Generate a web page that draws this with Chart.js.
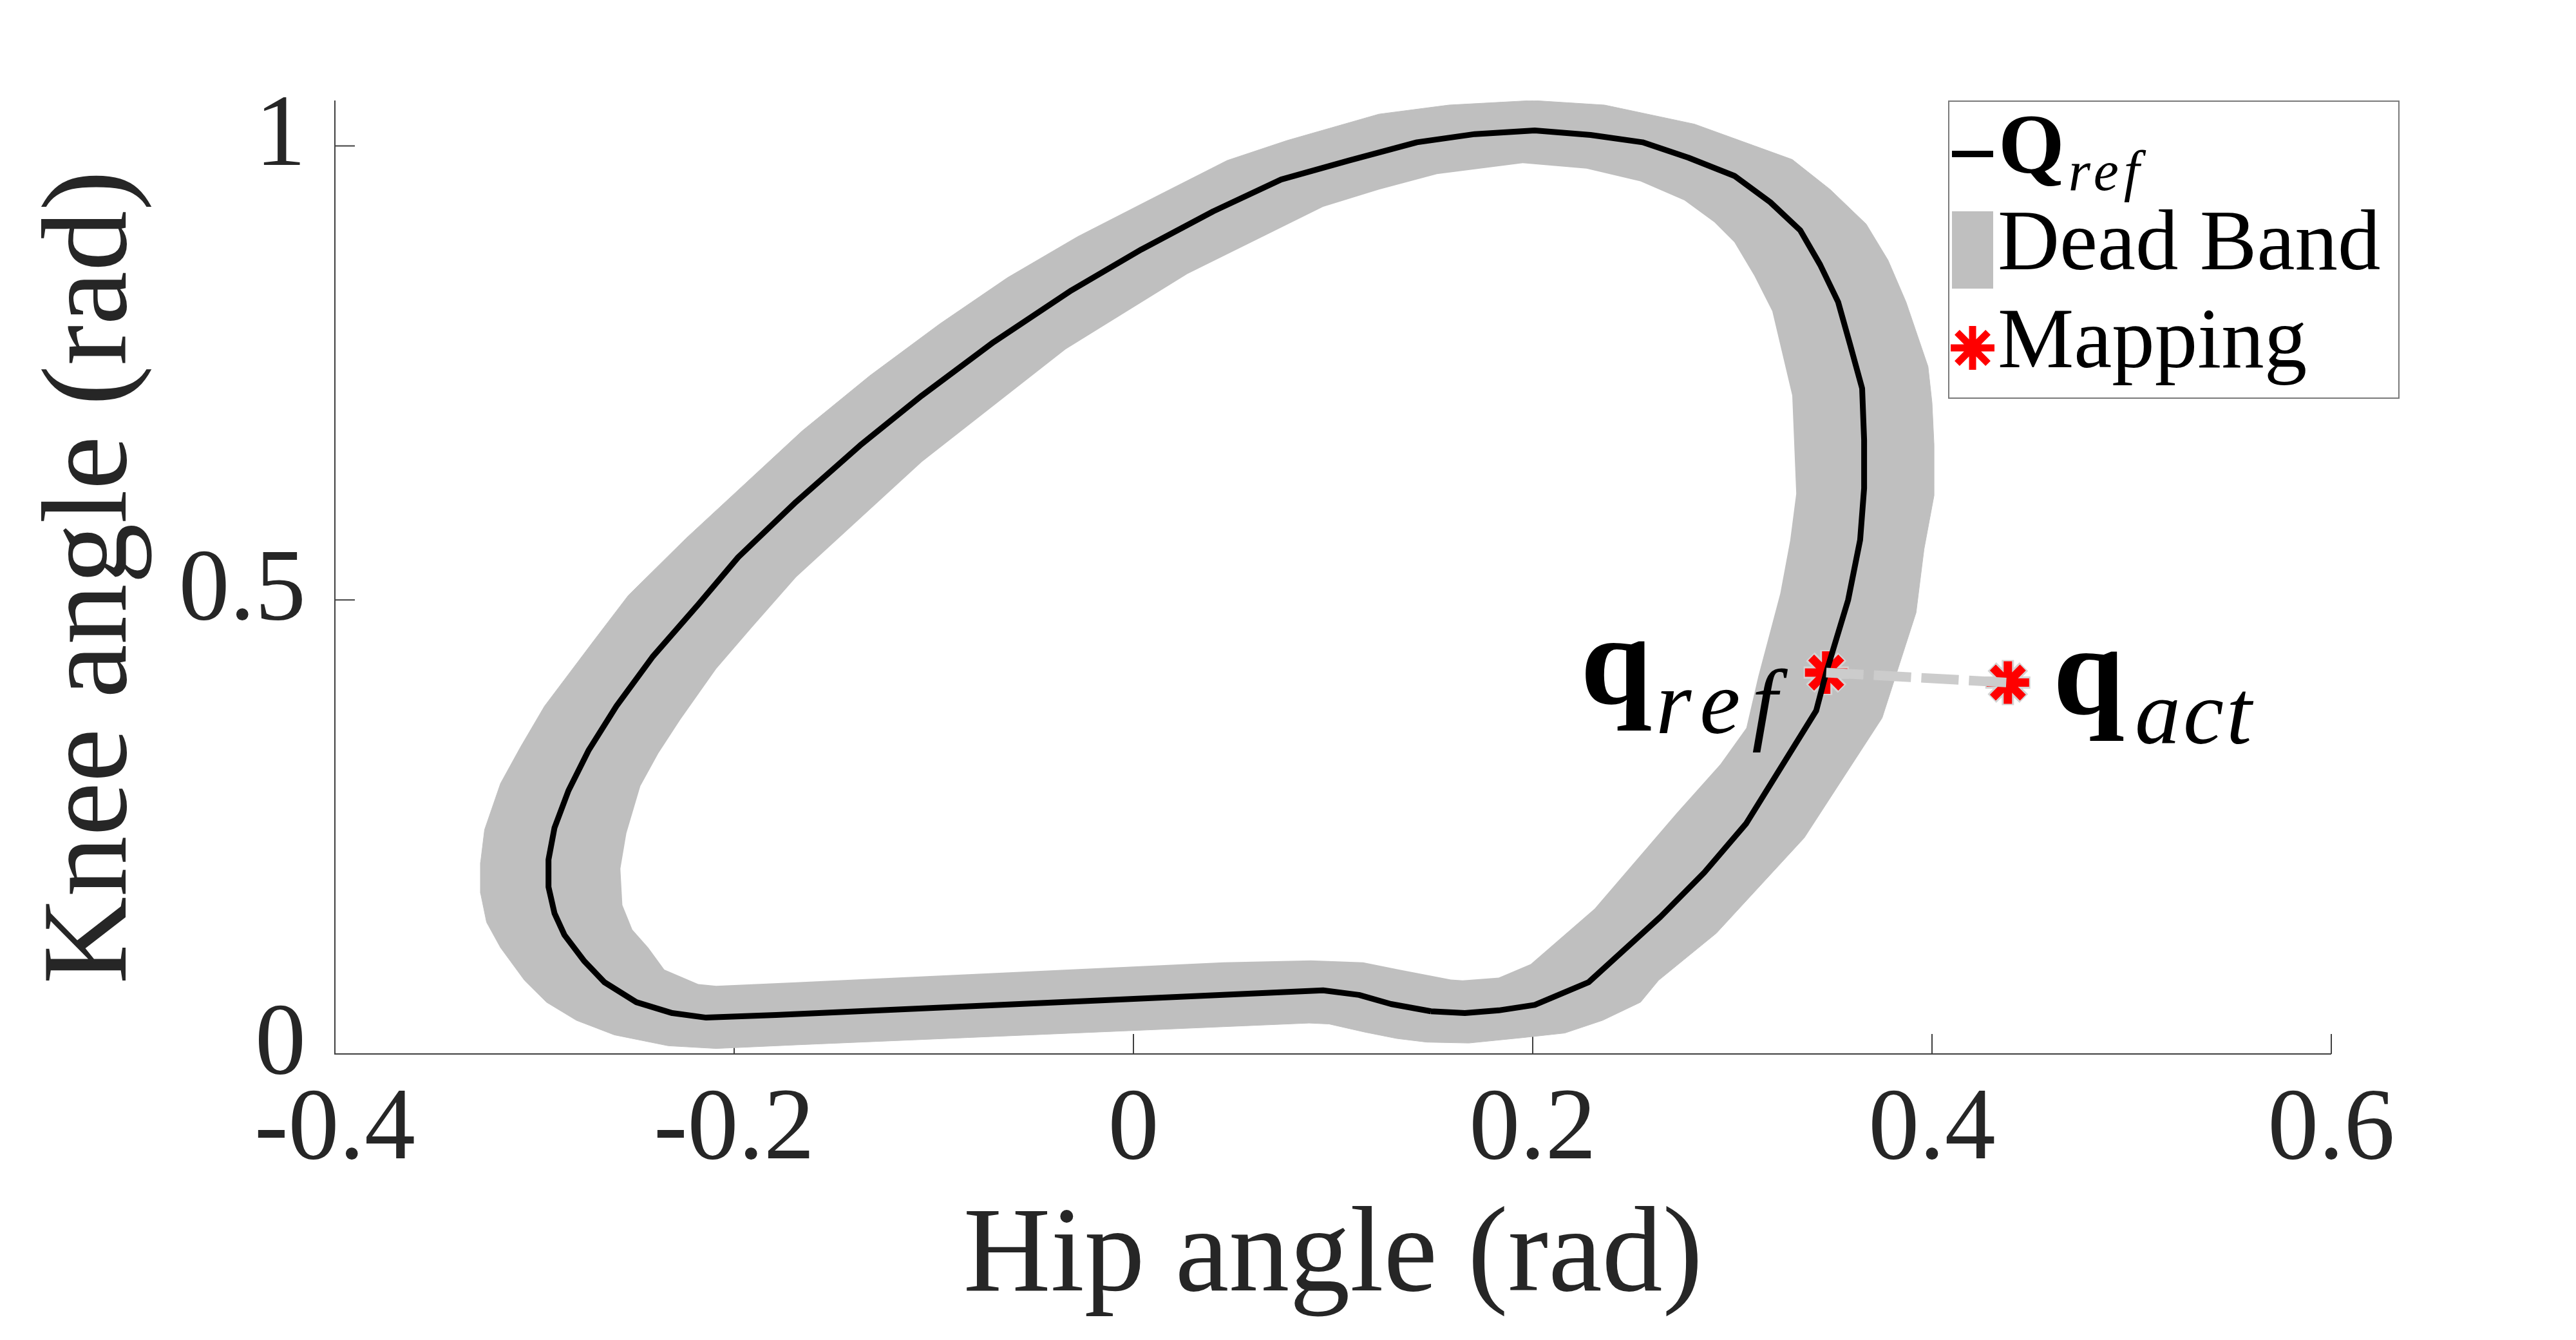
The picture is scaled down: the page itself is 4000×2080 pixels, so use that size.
<!DOCTYPE html>
<html>
<head>
<meta charset="utf-8">
<title>Knee angle vs hip angle</title>
<script src="https://cdn.jsdelivr.net/npm/chart.js@4.4.1/dist/chart.umd.min.js"></script>
<style>
  html, body { margin: 0; padding: 0; background: #ffffff; overflow: hidden; }
  canvas { display: block; }
</style>
</head>
<body>
<canvas id="myChart" width="4000" height="2080"></canvas>
<script>
// reference trajectory Q_ref (hip angle, knee angle), rad
var refHip = [0.149, 0.166, 0.183, 0.201, 0.228, 0.264, 0.286, 0.307, 0.342, 0.347,
  0.358, 0.364, 0.366, 0.366, 0.365, 0.359, 0.353, 0.344, 0.334, 0.319,
  0.301, 0.278, 0.255, 0.229, 0.201, 0.171, 0.142, 0.108, 0.074, 0.040,
  0.004, -0.031, -0.070, -0.106, -0.137, -0.169, -0.198, -0.218, -0.241, -0.259,
  -0.273, -0.283, -0.290, -0.293, -0.293, -0.290, -0.285, -0.275, -0.265, -0.249,
  -0.231, -0.214, -0.179, 0.095, 0.113, 0.129];
var refKnee = [0.047, 0.045, 0.048, 0.054, 0.079, 0.151, 0.200, 0.254, 0.378, 0.420,
  0.500, 0.566, 0.623, 0.676, 0.733, 0.781, 0.828, 0.869, 0.907, 0.938,
  0.967, 0.987, 1.004, 1.012, 1.017, 1.013, 1.004, 0.984, 0.963, 0.928,
  0.886, 0.841, 0.784, 0.725, 0.670, 0.608, 0.547, 0.495, 0.437, 0.383,
  0.334, 0.290, 0.249, 0.214, 0.184, 0.155, 0.131, 0.102, 0.079, 0.057,
  0.045, 0.040, 0.043, 0.070, 0.065, 0.055];

// dead band, outer edge
var bandOuterHip = [0.147, 0.168, 0.195, 0.216, 0.235, 0.254, 0.263, 0.292, 0.336, 0.375,
  0.392, 0.396, 0.401, 0.401, 0.400, 0.398, 0.387, 0.378, 0.367, 0.349,
  0.330, 0.281, 0.236, 0.200, 0.158, 0.123, 0.077, 0.047, 0.012, -0.028,
  -0.063, -0.097, -0.132, -0.166, -0.195, -0.224, -0.253, -0.270, -0.295, -0.307,
  -0.317, -0.325, -0.327, -0.327, -0.324, -0.317, -0.305, -0.294, -0.279, -0.260,
  -0.233, -0.209, -0.169, 0.045, 0.088, 0.098, 0.116, 0.132];
var bandOuterKnee = [0.013, 0.012, 0.018, 0.023, 0.037, 0.057, 0.081, 0.133, 0.238, 0.370,
  0.486, 0.556, 0.615, 0.671, 0.717, 0.757, 0.828, 0.874, 0.914, 0.952,
  0.985, 1.024, 1.045, 1.050, 1.045, 1.035, 1.006, 0.984, 0.945, 0.900,
  0.855, 0.804, 0.747, 0.686, 0.627, 0.568, 0.505, 0.456, 0.383, 0.338,
  0.298, 0.247, 0.211, 0.177, 0.145, 0.117, 0.081, 0.057, 0.037, 0.021,
  0.009, 0.006, 0.010, 0.030, 0.034, 0.033, 0.024, 0.017];

// dead band, inner edge
var bandInnerHip = [0.159, 0.165, 0.183, 0.199, 0.231, 0.272, 0.294, 0.307, 0.313, 0.324,
  0.329, 0.332, 0.330, 0.320, 0.311, 0.301, 0.291, 0.276, 0.254, 0.227,
  0.195, 0.152, 0.123, 0.095, 0.027, -0.034, -0.106, -0.169, -0.191, -0.209,
  -0.227, -0.238, -0.247, -0.254, -0.257, -0.256, -0.251, -0.243, -0.235, -0.218,
  -0.209, -0.169, 0.045, 0.089, 0.115, 0.133];
var bandInnerKnee = [0.082, 0.081, 0.084, 0.099, 0.160, 0.265, 0.319, 0.359, 0.416, 0.507,
  0.566, 0.617, 0.725, 0.818, 0.857, 0.894, 0.916, 0.940, 0.961, 0.975,
  0.981, 0.969, 0.952, 0.933, 0.859, 0.776, 0.652, 0.525, 0.470, 0.424,
  0.368, 0.331, 0.295, 0.243, 0.204, 0.164, 0.137, 0.117, 0.093, 0.077,
  0.075, 0.079, 0.101, 0.103, 0.101, 0.093];

// mapping: q_ref (on the curve) and q_act
var mapHip = [0.347, 0.438];
var mapKnee = [0.420, 0.409];
var mapNames = ["ref", "act"];

var xTicks = [-0.4, -0.2, 0, 0.2, 0.4, 0.6];
var xTickLabels = ["-0.4", "-0.2", "0", "0.2", "0.4", "0.6"];
var yTicks = [0, 0.5, 1];
var yTickLabels = ["0", "0.5", "1"];

var serif = "'Liberation Serif', 'Times New Roman', serif";
var textGray = "#262626";

function toPoints(xs, ys) {
  return xs.map(function (x, i) {
    return { x: x, y: ys[i] };
  });
}

// closed curves: repeat the first point at the end
function toLoop(xs, ys) {
  var pts = toPoints(xs, ys);
  pts.push({ x: xs[0], y: ys[0] });
  return pts;
}

function drawStar(ctx, x, y, r, w, color) {
  ctx.save();
  ctx.strokeStyle = color;
  ctx.lineWidth = w;
  ctx.beginPath();
  for (var k = 0; k < 4; k++) {
    var a = k * Math.PI / 4;
    ctx.moveTo(x - r * Math.sin(a), y - r * Math.cos(a));
    ctx.lineTo(x + r * Math.sin(a), y + r * Math.cos(a));
  }
  ctx.stroke();
  ctx.restore();
}

function setSpacing(ctx, px) {
  if ("letterSpacing" in ctx) ctx.letterSpacing = px + "px";
}

// bold symbol with italic subscript; returns total width
function mathText(ctx, x, y, main, sub, o, dry) {
  ctx.font = "bold " + o.size + "px " + serif;
  setSpacing(ctx, 0);
  var w1 = ctx.measureText(main).width;
  ctx.font = "italic " + o.subSize + "px " + serif;
  setSpacing(ctx, o.spacing);
  var w2 = ctx.measureText(sub).width;
  if (!dry) {
    ctx.fillText(sub, x + w1 + o.gap, y + o.drop);
    ctx.font = "bold " + o.size + "px " + serif;
    setSpacing(ctx, 0);
    ctx.fillText(main, x, y);
  }
  setSpacing(ctx, 0);
  return w1 + o.gap + w2;
}

// MATLAB style axes: left and bottom lines, short inward ticks
var axesPlugin = {
  id: "axesLines",
  beforeDatasetsDraw: function (c) {
    var ctx = c.ctx;
    var a = c.chartArea;
    ctx.save();
    ctx.strokeStyle = "#404040";
    ctx.lineWidth = 2;
    ctx.beginPath();
    ctx.moveTo(a.left, a.top);
    ctx.lineTo(a.left, a.bottom);
    ctx.lineTo(a.right, a.bottom);
    xTicks.forEach(function (v) {
      var px = c.scales.x.getPixelForValue(v);
      ctx.moveTo(px, a.bottom);
      ctx.lineTo(px, a.bottom - 31);
    });
    yTicks.forEach(function (v) {
      var py = c.scales.y.getPixelForValue(v);
      ctx.moveTo(a.left, py);
      ctx.lineTo(a.left + 31, py);
    });
    ctx.stroke();
    ctx.restore();
  }
};

// q_ref / q_act labels and the legend box
var notesPlugin = {
  id: "notes",
  afterDatasetsDraw: function (c) {
    var ctx = c.ctx;
    var a = c.chartArea;
    ctx.save();
    ctx.fillStyle = "#000000";
    ctx.textBaseline = "alphabetic";

    var refStyle = { size: 200, subSize: 142, gap: 6, drop: 46, spacing: 18 };
    var actStyle = { size: 200, subSize: 142, gap: 16, drop: 46, spacing: 4 };

    var px0 = c.scales.x.getPixelForValue(mapHip[0]);
    var py0 = c.scales.y.getPixelForValue(mapKnee[0]);
    var w = mathText(ctx, 0, 0, "q", mapNames[0], refStyle, true);
    mathText(ctx, px0 - 58 - w, py0 + 48, "q", mapNames[0], refStyle, false);

    var px1 = c.scales.x.getPixelForValue(mapHip[1]);
    var py1 = c.scales.y.getPixelForValue(mapKnee[1]);
    mathText(ctx, px1 + 70, py1 + 48, "q", mapNames[1], actStyle, false);

    // legend
    var lx = a.right - 594;
    var ly = a.top + 1;
    ctx.fillStyle = "#ffffff";
    ctx.fillRect(lx, ly, 699, 461);
    ctx.strokeStyle = "#7a7a7a";
    ctx.lineWidth = 2;
    ctx.strokeRect(lx, ly, 699, 461);

    ctx.strokeStyle = "#000000";
    ctx.lineWidth = 10;
    ctx.beginPath();
    ctx.moveTo(lx + 5, ly + 82);
    ctx.lineTo(lx + 69, ly + 82);
    ctx.stroke();
    ctx.fillStyle = "#000000";
    mathText(ctx, lx + 77, ly + 111, "Q", "ref",
      { size: 132, subSize: 88, gap: 6, drop: 27, spacing: 8 }, false);

    ctx.fillStyle = "#bfbfbf";
    ctx.fillRect(lx + 5, ly + 171, 64, 120);
    ctx.fillStyle = "#000000";
    ctx.font = "133px " + serif;
    ctx.fillText("Dead Band", lx + 76, ly + 261);

    drawStar(ctx, lx + 37, ly + 383, 34, 11, "#ff0000");
    ctx.fillStyle = "#000000";
    ctx.font = "133px " + serif;
    ctx.fillText("Mapping", lx + 76, ly + 413);
    ctx.restore();
  }
};

var ctx = document.getElementById("myChart").getContext("2d");
Chart.defaults.font.family = serif;

var chart = new Chart(ctx, {
  type: "scatter",
  data: {
    datasets: [
      {
        label: "Dead Band outer",
        data: toLoop(bandOuterHip, bandOuterKnee),
        showLine: true,
        fill: "shape",
        backgroundColor: "#bfbfbf",
        borderColor: "#bfbfbf",
        borderWidth: 1,
        pointRadius: 0,
        tension: 0,
        order: 6
      },
      {
        label: "Dead Band inner",
        data: toLoop(bandInnerHip, bandInnerKnee),
        showLine: true,
        fill: "shape",
        backgroundColor: "#ffffff",
        borderColor: "rgba(255,255,255,0)",
        borderWidth: 1,
        pointRadius: 0,
        tension: 0,
        order: 5
      },
      {
        label: "Q_ref",
        data: toLoop(refHip, refKnee),
        showLine: true,
        fill: false,
        borderColor: "#000000",
        borderWidth: 9,
        borderJoinStyle: "round",
        pointRadius: 0,
        tension: 0,
        order: 2
      },
      {
        label: "Mapping halo",
        data: toPoints(mapHip, mapKnee),
        showLine: false,
        pointStyle: "star",
        pointRadius: 35,
        pointBorderWidth: 19,
        pointBorderColor: "#d4d4d4",
        pointBackgroundColor: "#d4d4d4",
        order: 4
      },
      {
        label: "Mapping",
        data: toPoints(mapHip, mapKnee),
        showLine: false,
        pointStyle: "star",
        pointRadius: 33,
        pointBorderWidth: 13,
        pointBorderColor: "#ff0000",
        pointBackgroundColor: "#ff0000",
        order: 3
      },
      {
        label: "link",
        data: toPoints(mapHip, mapKnee),
        showLine: true,
        fill: false,
        borderColor: "#cccccc",
        borderWidth: 15,
        borderDash: [58, 16],
        pointRadius: 0,
        order: 1
      }
    ]
  },
  options: {
    responsive: false,
    animation: false,
    events: [],
    layout: { padding: { top: 156, right: 380, left: 0, bottom: 0 } },
    plugins: {
      legend: { display: false },
      tooltip: { enabled: false }
    },
    scales: {
      x: {
        type: "linear",
        min: -0.4,
        max: 0.6,
        afterBuildTicks: function (s) {
          s.ticks = xTicks.map(function (v) { return { value: v }; });
        },
        afterFit: function (s) { s.height = 444; },
        grid: { display: false, drawTicks: false },
        border: { display: false },
        ticks: {
          font: { size: 158, lineHeight: 1.2 },
          color: textGray,
          padding: 26,
          maxRotation: 0,
          autoSkip: false,
          callback: function (v, i) { return xTickLabels[i]; }
        },
        title: {
          display: true,
          text: "Hip angle (rad)",
          font: { size: 188, lineHeight: 1.2 },
          color: textGray,
          padding: { top: 0, bottom: 14 }
        }
      },
      y: {
        type: "linear",
        min: 0,
        max: 1.05,
        afterBuildTicks: function (s) {
          s.ticks = yTicks.map(function (v) { return { value: v }; });
        },
        afterFit: function (s) { s.width = 520; },
        grid: { display: false, drawTicks: false },
        border: { display: false },
        ticks: {
          font: { size: 158, lineHeight: 1.2 },
          color: textGray,
          padding: 45,
          labelOffset: -12,
          autoSkip: false,
          callback: function (v, i) { return yTickLabels[i]; }
        },
        title: {
          display: true,
          text: "Knee angle (rad)",
          font: { size: 188, lineHeight: 1.2 },
          color: textGray,
          padding: { top: 33, bottom: 0 }
        }
      }
    }
  },
  plugins: [axesPlugin, notesPlugin]
});
</script>
</body>
</html>
